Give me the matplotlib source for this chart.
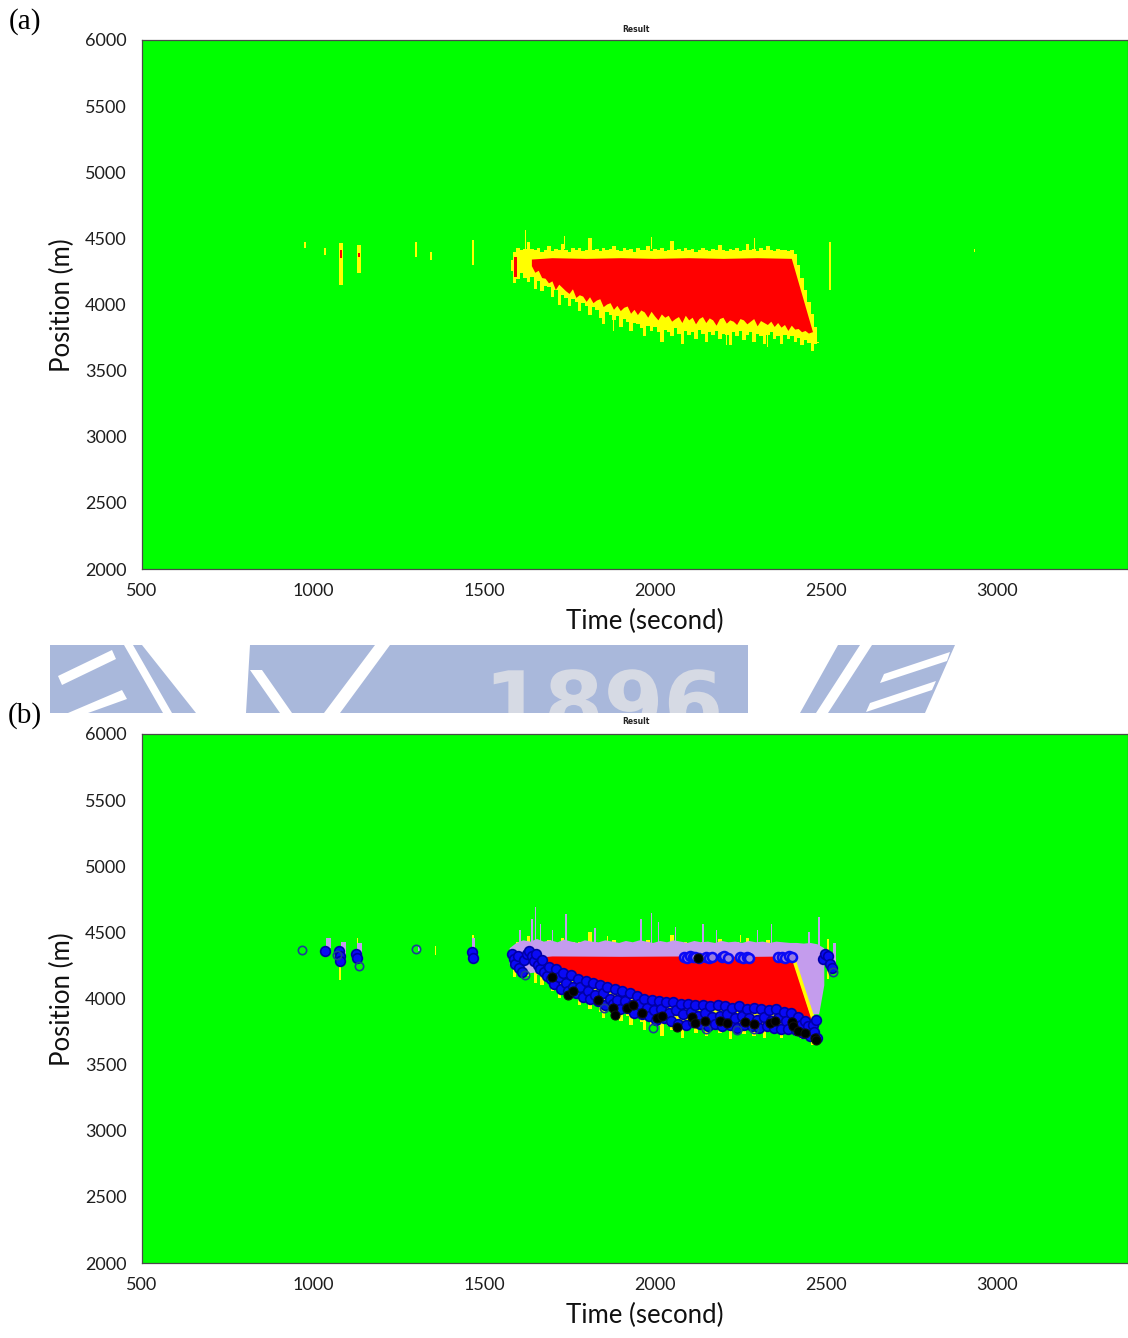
import numpy as np
import matplotlib
matplotlib.use("Agg")
import matplotlib.pyplot as plt
from matplotlib.patches import Polygon, PathPatch
from matplotlib.textpath import TextPath
from matplotlib.font_manager import FontProperties
from matplotlib.transforms import IdentityTransform

W, H = 1128, 1338

# ---------------- data ----------------
x_ticks = [500, 1000, 1500, 2000, 2500, 3000]
y_ticks = [2000, 2500, 3000, 3500, 4000, 4500, 5000, 5500, 6000]
x_range = [500, 3383]
y_range = [2000, 6000]

# yellow (low-speed) band, shared detection underlay, 10 s grid from 1580 s
yellow_t = np.arange(1580, 2490, 10)
yellow_top = [4340, 4400, 4430, 4410, 4420, 4470, 4420, 4410, 4430, 4400,
              4415, 4440, 4405, 4420, 4410, 4460, 4410, 4400, 4425, 4410,
              4430, 4405, 4415, 4500, 4410, 4420, 4405, 4430, 4410, 4420,
              4445, 4410, 4405, 4430, 4410, 4420, 4400, 4430, 4415, 4410,
              4440, 4405, 4420, 4410, 4430, 4405, 4415, 4480, 4410, 4420,
              4405, 4430, 4410, 4420, 4400, 4415, 4430, 4410, 4405, 4420,
              4410, 4450, 4415, 4405, 4420, 4410, 4430, 4405, 4415, 4460,
              4410, 4420, 4405, 4425, 4410, 4440, 4415, 4405, 4420, 4410,
              4415, 4405, 4410, 4380, 4300, 4200, 4110, 4020, 3930, 3830,
              3720]
yellow_bottom = [4250, 4160, 4190, 4240, 4200, 4170, 4210, 4120, 4180, 4100,
                 4140, 4130, 4060, 4110, 4000, 4070, 4050, 3990, 4040, 4020,
                 3950, 4010, 3990, 3920, 3980, 3960, 3900, 3850, 3940, 3920,
                 3880, 3910, 3830, 3890, 3870, 3800, 3860, 3850, 3820, 3760,
                 3840, 3800, 3830, 3790, 3720, 3810, 3790, 3760, 3820, 3780,
                 3700, 3800, 3770, 3790, 3740, 3810, 3780, 3720, 3790, 3770,
                 3800, 3740, 3780, 3770, 3690, 3790, 3760, 3800, 3730, 3770,
                 3790, 3720, 3780, 3760, 3700, 3770, 3790, 3740, 3760, 3700,
                 3770, 3740, 3760, 3720, 3750, 3690, 3730, 3710, 3650, 3700,
                 3710]

# red (congested) region, panel (a)
red_a_top_t = [1640, 1700, 1800, 1900, 2000, 2100, 2200, 2300, 2400, 2462]
red_a_top_p = [4340, 4350, 4345, 4350, 4345, 4350, 4345, 4350, 4345, 3790]
red_a_bot_t = np.arange(1640, 2470, 10)
red_a_bot_p = [4290, 4240, 4255, 4200, 4195, 4160, 4175, 4110, 4150, 4125,
               4100, 4080, 4115, 4050, 4070, 4060, 4020, 4055, 4010, 4030,
               4040, 3980, 4000, 4010, 3960, 3990, 3950, 3975, 3985, 3930,
               3960, 3920, 3955, 3940, 3900, 3945, 3910, 3880, 3925, 3900,
               3915, 3870, 3890, 3905, 3860, 3915, 3880, 3900, 3850, 3890,
               3905, 3860, 3895, 3880, 3840, 3890, 3900, 3855, 3880, 3870,
               3845, 3890, 3880, 3850, 3870, 3890, 3835, 3875, 3860, 3845,
               3870, 3830, 3860, 3825, 3845, 3800, 3840, 3810, 3815, 3790,
               3800, 3780, 3790]

# isolated short streaks, panel (a): time, low, high, duration
ystreak_a_t = [977, 1035, 1082, 1134, 1301, 1345, 1468, 2512, 2935, 1620, 1735, 1990, 2290,
               1880, 2080, 2210, 2330]
ystreak_a_lo = [4430, 4375, 4150, 4240, 4360, 4340, 4300, 4110, 4400, 4420, 4420, 4420, 4420,
                3800, 3700, 3690, 3680]
ystreak_a_hi = [4475, 4430, 4465, 4450, 4470, 4400, 4490, 4475, 4420, 4560, 4520, 4510, 4500,
                3900, 3800, 3790, 3780]
ystreak_a_d = [4, 6, 10, 10, 4, 5, 8, 8, 4, 3, 3, 3, 3, 3, 3, 3, 3]
rstreak_a_t = [1082, 1134, 1592]
rstreak_a_lo = [4350, 4360, 4210]
rstreak_a_hi = [4415, 4390, 4360]
rstreak_a_d = [5, 5, 8]

# panel (b): purple region
purple_top_t = np.arange(1575, 2500, 20)
purple_top_p = [4380, 4420, 4440, 4430, 4450, 4430, 4440, 4425, 4445, 4430,
                4420, 4440, 4430, 4425, 4440, 4430, 4420, 4435, 4425, 4440,
                4430, 4420, 4435, 4425, 4440, 4430, 4420, 4435, 4425, 4430,
                4420, 4435, 4425, 4430, 4420, 4435, 4425, 4430, 4420, 4430,
                4425, 4420, 4420, 4415, 4420, 4410, 4380]
purple_bot_t = [1575, 1600, 1630, 1660, 1680, 1700, 2400, 2420, 2440, 2460, 2480, 2495]
purple_bot_p = [4250, 4200, 4190, 4200, 4250, 4300, 4300, 3990, 3930, 3880, 3880, 4100]
pstreak_t = [1605, 1640, 1650, 1665, 1700, 1740, 1825, 1960, 1990, 2010, 2060, 2140,
             2180, 2300, 2340, 2450, 2480, 2525, 1045, 1090, 1135, 1310, 1470]
pstreak_lo = [4420, 4420, 4430, 4430, 4420, 4420, 4420, 4420, 4420, 4420, 4420, 4420,
              4420, 4420, 4420, 4410, 4400, 4200, 4380, 4320, 4310, 4360, 4320]
pstreak_hi = [4520, 4600, 4690, 4560, 4520, 4640, 4530, 4600, 4650, 4580, 4540, 4560,
              4520, 4520, 4560, 4500, 4620, 4420, 4460, 4430, 4420, 4400, 4460]
pstreak_d = [6, 5, 4, 5, 5, 6, 5, 6, 5, 4, 5, 5, 4, 4, 4, 4, 6, 10, 14, 14, 14, 8, 10]
ystreak_b_t = [1079, 1130, 1358, 1468, 2505, 1700, 1860, 2250]
ystreak_b_lo = [4140, 4360, 4330, 4380, 4150, 4430, 4430, 4430]
ystreak_b_hi = [4340, 4460, 4400, 4480, 4450, 4470, 4470, 4480]
ystreak_b_d = [5, 4, 3, 4, 5, 3, 3, 3]

# panel (b): red region
red_b_top_t = [1665, 1700, 1900, 2100, 2300, 2400, 2464]
red_b_top_p = [4310, 4318, 4315, 4318, 4315, 4318, 3800]
red_b_bot_t = [1665, 1690, 1740, 1790, 1840, 1890, 1940, 1990, 2040, 2090,
               2140, 2190, 2240, 2290, 2340, 2400, 2420, 2440, 2464]
red_b_bot_p = [4280, 4238, 4190, 4140, 4100, 4064, 4025, 3989, 3972, 3966,
               3958, 3951, 3944, 3936, 3925, 3905, 3870, 3840, 3795]
edge_b_t = [2404, 2468]
edge_b_p = [4310, 3800]

# panel (b): detected shock points
blue_left_t = [1582, 1588, 1592, 1598, 1603, 1610, 1617, 1625, 1632, 1640, 1646, 1652,
               1658, 1664, 1670, 1676, 1683]
blue_left_p = [4340, 4300, 4260, 4320, 4230, 4200, 4290, 4340, 4360, 4320, 4280, 4340,
               4250, 4220, 4290, 4200, 4170]
blue_band_t = [1690, 1697, 1704, 1711, 1718, 1725, 1732, 1740, 1747, 1754,
               1761, 1768, 1775, 1782, 1790, 1797, 1804, 1811, 1818, 1826,
               1833, 1840, 1847, 1854, 1861, 1868, 1876, 1883, 1890, 1897,
               1904, 1911, 1918, 1926, 1933, 1940, 1947, 1954, 1961, 1968,
               1976, 1983, 1990, 1997, 2004, 2011, 2018, 2026, 2033, 2040,
               2047, 2054, 2061, 2068, 2076, 2083, 2090, 2097, 2104, 2111,
               2118, 2126, 2133, 2140, 2147, 2154, 2161, 2168, 2176, 2183,
               2190, 2197, 2204, 2211, 2218, 2226, 2233, 2240, 2247, 2254,
               2261, 2268, 2276, 2283, 2290, 2297, 2304, 2311, 2318, 2326,
               2333, 2340, 2347, 2354, 2361, 2368, 2376, 2383, 2390, 2397,
               2404, 2411, 2418, 2426, 2433, 2440, 2447, 2454, 2461, 2466,
               2470, 2473]
blue_band_p = [4240, 4150, 4110, 4220, 4160, 4070, 4190, 4120, 4060, 4180,
               4090, 4040, 4150, 4090, 4010, 4130, 4060, 4000, 4120, 4030,
               3980, 4100, 4040, 3950, 4090, 4000, 3960, 4070, 3990, 3920,
               4060, 3980, 3930, 4040, 3950, 3890, 4020, 3960, 3880, 4000,
               3930, 3870, 3990, 3910, 3840, 3980, 3920, 3850, 3970, 3890,
               3830, 3970, 3910, 3810, 3960, 3880, 3800, 3960, 3900, 3820,
               3950, 3870, 3810, 3950, 3890, 3790, 3940, 3860, 3810, 3950,
               3870, 3790, 3940, 3880, 3800, 3930, 3850, 3780, 3940, 3870,
               3800, 3920, 3850, 3790, 3930, 3840, 3780, 3920, 3860, 3790,
               3910, 3830, 3780, 3920, 3850, 3770, 3900, 3830, 3770, 3890,
               3820, 3760, 3860, 3800, 3740, 3830, 3790, 3720, 3800, 3750,
               3840, 3700]
blue_top_t = [2085, 2093, 2101, 2110, 2118, 2128, 2150, 2158, 2168, 2195, 2203,
              2212, 2248, 2258, 2268, 2276, 2360, 2370, 2380, 2392, 2400]
blue_top_p = [4315, 4310, 4318, 4312, 4316, 4310, 4314, 4308, 4316, 4312, 4318,
              4310, 4314, 4310, 4316, 4308, 4312, 4316, 4310, 4318, 4312]
blue_right_t = [2492, 2498, 2505, 2512, 2518]
blue_right_p = [4300, 4340, 4320, 4260, 4230]
blue_iso_t = [1035, 1076, 1078, 1080, 1125, 1130, 1465, 1467]
blue_iso_p = [4360, 4360, 4320, 4280, 4340, 4310, 4350, 4310]
ring_t = [968, 1070, 1135, 1301, 2520, 1995, 2150, 2290, 1620, 1850, 2240]
ring_p = [4367, 4330, 4246, 4374, 4200, 3780, 3770, 3770, 4180, 3930, 3760]
black_t = [1699, 1746, 1760, 1833, 1877, 1883, 1918, 1937, 1962, 2006, 2020, 2064, 2108, 2117,
           2126, 2146, 2190, 2210, 2263, 2290, 2336, 2350, 2400, 2403, 2418, 2438, 2468, 2472]
black_p = [4163, 4027, 4060, 3989, 3929, 3875, 3930, 3950, 3890, 3852, 3870, 3785, 3860, 3815,
           4306, 3830, 3830, 3815, 3820, 3810, 3815, 3830, 3820, 3790, 3754, 3740, 3700, 3686]

# ---------------- style ----------------
GREEN = "#00ff00"
RED = "#ff0000"
YELLOW = "#ffff00"
PURPLE = "#c49ced"
BLUE = "#0a0af5"
BLUE_EDGE = "#0000a8"
RING = "#1d3f96"
TICKFONT = "Lato"

fig = plt.figure(figsize=(W / 100, H / 100), dpi=100)
fig.patch.set_facecolor("white")


def fx(x):
    return x / W


def fy(y):
    return 1 - y / H


def pair(a, b):
    n = min(len(a), len(b))
    return np.asarray(a[:n], float), np.asarray(b[:n], float)


def streaks(ax, t, lo, hi, d, color, z):
    n = min(len(t), len(lo), len(hi), len(d))
    lo = np.asarray(lo[:n], float)
    hi = np.asarray(hi[:n], float)
    ax.bar(t[:n], hi - lo, bottom=lo, width=d[:n], color=color, linewidth=0, zorder=z)


def poly(ax, top_t, top_p, bot_t, bot_p, color, z):
    tt, tp = pair(top_t, top_p)
    bt, bp = pair(bot_t, bot_p)
    ax.fill(np.r_[tt, bt[::-1]], np.r_[tp, bp[::-1]], color=color, linewidth=0, zorder=z)


def setup(ax):
    ax.set_facecolor(GREEN)
    ax.set_xlim(x_range)
    ax.set_ylim(y_range)
    ax.set_xticks(x_ticks)
    ax.set_yticks(y_ticks)
    ax.tick_params(length=0, labelsize=13, colors="#1e1e1e")
    ax.tick_params(axis="x", pad=10)
    ax.tick_params(axis="y", pad=11)
    for lab in ax.get_xticklabels() + ax.get_yticklabels():
        lab.set_fontfamily(TICKFONT)
    for s in ax.spines.values():
        s.set_color("#4a4a4a")
        s.set_linewidth(0.9)


def yellow_layer(ax):
    yt, ytop = pair(yellow_t, yellow_top)
    _, ybot = pair(yellow_t, yellow_bottom)
    n = min(len(yt), len(ybot))
    ax.fill_between(yt[:n], ybot[:n], ytop[:n], step="mid", color=YELLOW,
                    linewidth=0, zorder=2)


left = 142 / W
width = 1 - left
# ---------- panel (a) ----------
ax_a = fig.add_axes([left, fy(569), width, 529 / H])
setup(ax_a)
yellow_layer(ax_a)
streaks(ax_a, ystreak_a_t, ystreak_a_lo, ystreak_a_hi, ystreak_a_d, YELLOW, 2)
poly(ax_a, red_a_top_t, red_a_top_p, red_a_bot_t, red_a_bot_p, RED, 3)
streaks(ax_a, rstreak_a_t, rstreak_a_lo, rstreak_a_hi, rstreak_a_d, RED, 3)

# ---------- panel (b) ----------
ax_b = fig.add_axes([left, fy(1263), width, 529 / H])
setup(ax_b)
yellow_layer(ax_b)
streaks(ax_b, ystreak_b_t, ystreak_b_lo, ystreak_b_hi, ystreak_b_d, YELLOW, 2)
poly(ax_b, purple_top_t, purple_top_p, purple_bot_t, purple_bot_p, PURPLE, 3)
streaks(ax_b, pstreak_t, pstreak_lo, pstreak_hi, pstreak_d, PURPLE, 3)
poly(ax_b, red_b_top_t, red_b_top_p, red_b_bot_t, red_b_bot_p, RED, 4)
ax_b.plot(edge_b_t, edge_b_p, color=YELLOW, linewidth=2.5, zorder=4.5)
for tt, pp in [(blue_left_t, blue_left_p), (blue_band_t, blue_band_p),
               (blue_right_t, blue_right_p), (blue_iso_t, blue_iso_p)]:
    a, b = pair(tt, pp)
    ax_b.plot(a, b, "o", ms=7, mfc=BLUE, mec=BLUE_EDGE, mew=1.2, zorder=5)
a, b = pair(blue_top_t, blue_top_p)
ax_b.plot(a, b, "o", ms=6.5, mfc="#9a7ee0", mec=BLUE, mew=1.8, zorder=5)
a, b = pair(ring_t, ring_p)
ax_b.plot(a, b, "o", ms=6, mfc="none", mec=RING, mew=1.2, zorder=5.5)
a, b = pair(black_t, black_p)
ax_b.plot(a, b, "o", ms=6.5, mfc="black", mec="#101010", mew=0.8, zorder=6)

# ---------- text ----------
for yc in (305, 999):
    fig.text(fx(62), fy(yc), "Position (m)", rotation=90, ha="center", va="center",
             fontsize=18.5, family=TICKFONT, color="#111111")
for yc in (621, 1315):
    fig.text(fx(645), fy(yc), "Time (second)", ha="center", va="center",
             fontsize=18.5, family=TICKFONT, color="#111111")
fig.text(fx(25), fy(22), "(a)", ha="center", va="center", fontsize=21,
         family="Liberation Serif")
fig.text(fx(25), fy(716), "(b)", ha="center", va="center", fontsize=21,
         family="Liberation Serif")
for yc in (29, 722):
    fig.text(fx(636), fy(yc), "Result", ha="center", va="center", fontsize=5.5,
             weight="bold", color="#222222", zorder=3)

# ---------- background watermark ----------
WM = "#a9b8db"
pieces = [
    [(50, 645), (142, 645), (196, 713), (50, 713)],
    [(250, 645), (748, 645), (748, 713), (246, 713)],
    [(838, 645), (955, 645), (925, 713), (800, 713)],
]
whites = [
    [(58, 676), (112, 650), (116, 659), (62, 685)],
    [(68, 713), (122, 690), (127, 699), (88, 713)],
    [(124, 645), (133, 645), (172, 713), (163, 713)],
    [(250, 670), (262, 670), (292, 713), (280, 713)],
    [(324, 713), (340, 713), (390, 645), (375, 645)],
    [(816, 713), (828, 713), (872, 645), (860, 645)],
    [(884, 674), (950, 652), (947, 661), (880, 683)],
    [(870, 703), (936, 681), (932, 690), (866, 712)],
]


def figpoly(pts, color, z):
    p = Polygon([(fx(x), fy(y)) for x, y in pts], closed=True, transform=fig.transFigure,
                facecolor=color, edgecolor="none", zorder=z)
    fig.add_artist(p)
    return p


clip_piece = None
for i, pc in enumerate(pieces):
    p = figpoly(pc, WM, 0.5)
    if i == 1:
        clip_piece = p
for wpts in whites:
    figpoly(wpts, "white", 0.6)

# "1896" as an outline path so that it can be clipped to the band
tp = TextPath((484, H - 733), "1896", size=86,
              prop=FontProperties(family="DejaVu Sans", weight="bold"))
digits = PathPatch(tp, transform=IdentityTransform(), facecolor="#d6dae4",
                   edgecolor="none", zorder=0.7)
fig.add_artist(digits)
digits.set_clip_path(clip_piece)

fig.savefig("out.png", dpi=100)
